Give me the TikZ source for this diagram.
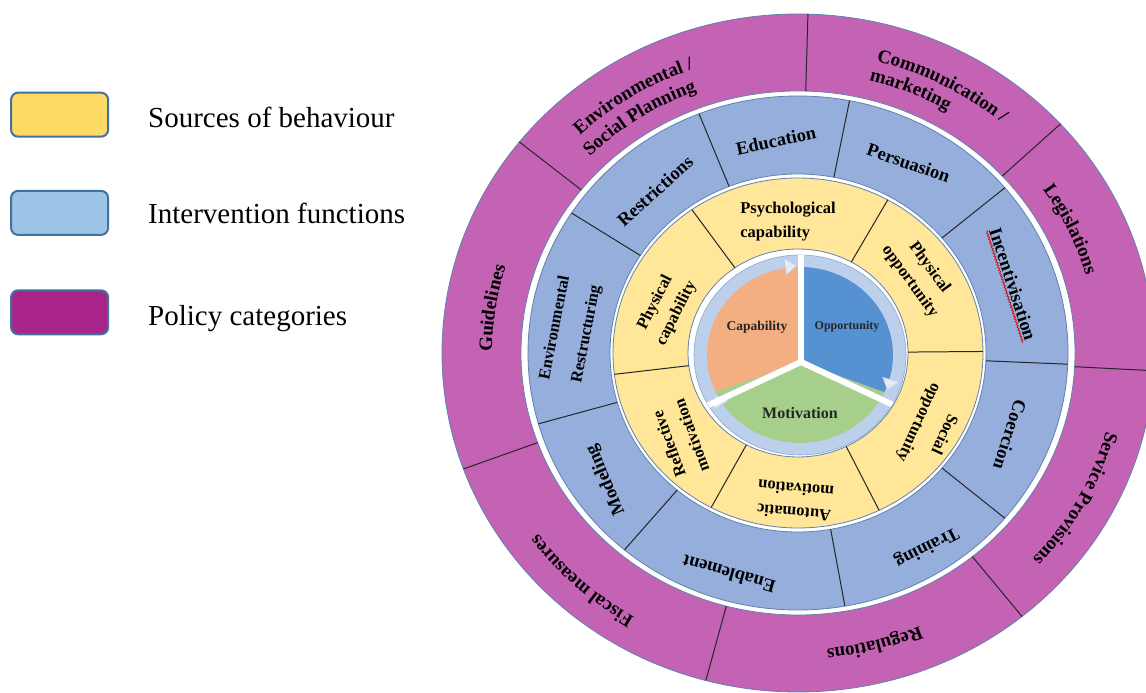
\documentclass[tikz,border=0pt]{standalone}
\usepackage{fontspec}
\setmainfont{Liberation Serif}
\usetikzlibrary{decorations.text,decorations.pathmorphing}
\definecolor{magring}{RGB}{196,98,180}
\definecolor{bluering}{RGB}{149,174,219}
\definecolor{yelring}{RGB}{255,230,153}
\definecolor{legyel}{RGB}{255,217,102}
\definecolor{legblue}{RGB}{157,195,230}
\definecolor{legmag}{RGB}{168,35,138}
\definecolor{legedge}{RGB}{65,113,156}
\definecolor{ringedge}{RGB}{95,130,175}
\definecolor{capcol}{RGB}{243,175,130}
\definecolor{oppcol}{RGB}{86,146,210}
\definecolor{motcol}{RGB}{166,207,140}
\definecolor{bandcol}{RGB}{188,208,235}
\newcommand{\magfont}{\bfseries\fontsize{19}{22}\selectfont}
\begin{document}
\begin{tikzpicture}[x=1pt,y=1pt,
  ringline/.style={draw=ringedge, line width=0.8pt},
  divider/.style={draw=black!85, line width=1pt},
  legbox/.style={draw=legedge, line width=2pt, rounded corners=7pt, minimum width=97pt, minimum height=44pt, inner sep=0pt},
  legtext/.style={anchor=base west, font=\fontsize{29}{32}\selectfont, inner sep=0pt},
  bluelab/.style={font=\bfseries\fontsize{18.5}{22}\selectfont, align=center, inner sep=0pt},
  envlab/.style={font=\bfseries\fontsize{16.5}{32}\selectfont, align=center, inner sep=0pt},
  yellab/.style={font=\bfseries\fontsize{16.5}{24}\selectfont, align=center, inner sep=0pt},
  corelab/.style={inner sep=0pt, text=black!85},
  curved/.style={decorate, decoration={text along path, text align=center, text={|\magfont|#1}}},
]
\useasboundingbox (0,0) rectangle (1146,693);
\clip (0,0) rectangle (1146,693);
\coordinate (C) at (798,340);
\coordinate (I) at (800,338);
\coordinate (J) at (801,331);

% rings
\filldraw[fill=magring, ringline] (C) ellipse[x radius=356, y radius=339];
\filldraw[fill=white, ringline] (C) ellipse[x radius=277, y radius=262];
\filldraw[fill=bluering, ringline] (C) ellipse[x radius=270, y radius=257];
\filldraw[fill=white, ringline] (C) ellipse[x radius=188, y radius=179];
\filldraw[fill=yelring, ringline] (C) ellipse[x radius=185, y radius=175];
\filldraw[fill=white, ringline] (C) ellipse[x radius=110, y radius=104];

% dividers
\foreach \a in {88.4,42.5,-3,-51,-105,-160,141.5}
  \draw[divider] ([shift={(C)}]\a:277 and 262) -- ([shift={(C)}]\a:356 and 339);
\foreach \a in {111.5,79,40,-2.5,-40,-80,-130,-164,147}
  \draw[divider] ([shift={(C)}]\a:188 and 179) -- ([shift={(C)}]\a:270 and 257);
\foreach \a in {125,61,0.5,-64,-118,-173}
  \draw[divider] ([shift={(C)}]\a:110 and 104) -- ([shift={(C)}]\a:185 and 175);

% inner wheel
\filldraw[fill=bandcol, draw=ringedge!70, line width=0.6pt] (I) ellipse[x radius=106, y radius=100];
\fill[capcol] (J) -- ([shift={(I)}]90:93 and 88) arc[start angle=90, end angle=205, x radius=93, y radius=88] -- cycle;
\fill[motcol] (J) -- ([shift={(I)}]205:93 and 88) arc[start angle=205, end angle=335, x radius=93, y radius=88] -- cycle;
\fill[oppcol] (J) -- ([shift={(I)}]-25:93 and 88) arc[start angle=-25, end angle=90, x radius=93, y radius=88] -- cycle;
% arrow tips of the circular arrows
\foreach \a in {90,-25,205}
  \filldraw[fill=bandcol!45!white, draw=ringedge!45, line width=0.5pt]
    ([shift={(I)}]\a+9:86 and 81) -- ([shift={(I)}]\a+9:104 and 98) -- ([shift={(I)}]\a+2:95 and 89.5) -- cycle;
\begin{scope}
  \clip (I) ellipse[x radius=106, y radius=100];
  \draw[white, line width=6pt] (J) -- ++(90:120);
  \draw[white, line width=6pt] (J) -- ++(-25:130);
  \draw[white, line width=6pt] (J) -- ++(-155:130);
\end{scope}

\node[corelab, font=\bfseries\fontsize{13.5}{15}\selectfont] (cap) at (757,366) {Capability};
\node[corelab, font=\bfseries\fontsize{12}{14}\selectfont] (opp) at (847,366) {Opportunity};
\node[corelab, font=\bfseries\fontsize{16}{18}\selectfont] (mot) at (800,280) {Motivation};

% sources of behaviour (yellow ring)
\node[yellab, align=left] (psy) at (788,471.6) {Psychological\\capability};
\node[yellab, rotate=63] (phc) at (666,385) {Physical\\capability};
\node[yellab, rotate=-54] (pho) at (919.5,418.5) {Physical\\opportunity};
\node[yellab, rotate=-115, font=\bfseries\fontsize{16.5}{28}\selectfont] (soc) at (931,265) {Social\\opportunity};
\node[yellab, rotate=175] (aut) at (795,192) {Automatic\\motivation};
\node[yellab, rotate=110] (ref) at (680,253) {Reflective\\motivation};

% intervention functions (blue ring)
\node[bluelab, rotate=12] (edu) at (776,552.5) {Education};
\node[bluelab, rotate=-19] (per) at (908.5,530) {Persuasion};
\node[bluelab, rotate=-72] (inc) at (1013,409) {Incentivisation};
\node[bluelab, rotate=-108] (coe) at (1010,258) {Coercion};
\node[bluelab, rotate=-153] (tra) at (926.5,146) {Training};
\node[bluelab, rotate=164] (ena) at (729,119) {Enablement};
\node[bluelab, rotate=113] (mod) at (606,213) {Modeling};
\node[envlab, rotate=79] (env) at (571,362) {Environmental\\Restructuring};
\node[bluelab, rotate=42] (res) at (655,502) {Restrictions};
\draw[red!85!black, line width=0.7pt, decorate, decoration={snake, amplitude=0.9pt, segment length=3pt}]
  ([shift={(-90-72:2)}]inc.south west) -- ([shift={(-90-72:2)}]inc.south east);

% policy categories (magenta ring)
\path[curved=Environmental /] ([shift={(C)}]151.7:316 and 301) arc[start angle=151.7, end angle=91.7, x radius=316, y radius=301];
\path[curved=Social Planning] ([shift={(C)}]153:293 and 279) arc[start angle=153, end angle=93, x radius=293, y radius=279];
\path[curved=Communication /] ([shift={(C)}]92.5:316 and 301) arc[start angle=92.5, end angle=32.5, x radius=316, y radius=301];
\path[curved=marketing] ([shift={(C)}]97.6:295 and 281) arc[start angle=97.6, end angle=37.6, x radius=295, y radius=281];
\path[curved=Legislations] ([shift={(C)}]65:299 and 285) arc[start angle=65, end angle=-15, x radius=299, y radius=285];
\path[curved=Service Provisions] ([shift={(C)}]11.6:319 and 304) arc[start angle=11.6, end angle=-68.4, x radius=319, y radius=304];
\path[curved=Regulations] ([shift={(C)}]-35.6:312 and 297) arc[start angle=-35.6, end angle=-115.6, x radius=312, y radius=297];
\path[curved=Fiscal measures] ([shift={(C)}]-92.7:322 and 307) arc[start angle=-92.7, end angle=-172.7, x radius=322, y radius=307];
\path[curved=Guidelines] ([shift={(C)}]211.4:306 and 291) arc[start angle=211.4, end angle=131.4, x radius=306, y radius=291];

% legend
\node[legbox, fill=legyel] (k1) at (59.6,578.3) {};
\node[legbox, fill=legblue] (k2) at (59.6,480.1) {};
\node[legbox, fill=legmag] (k3) at (59.6,380.7) {};
\node[legtext] (t1) at (148,565.6) {Sources of behaviour};
\node[legtext] (t2) at (148,469) {Intervention functions};
\node[legtext] (t3) at (148,367.4) {Policy categories};
\end{tikzpicture}
\end{document}
